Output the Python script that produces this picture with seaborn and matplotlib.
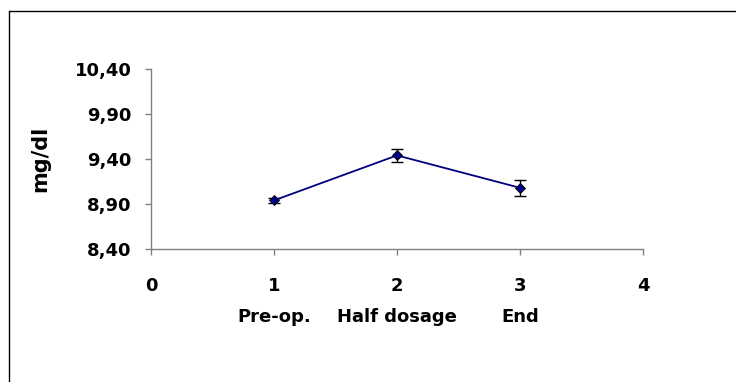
import numpy as np
import pandas as pd
import seaborn as sns
import matplotlib.pyplot as plt
from matplotlib.ticker import FuncFormatter, FixedLocator, MultipleLocator
from matplotlib.lines import Line2D

# data
x_pos = [1, 2, 3]
phases = ['Pre-op.', 'Half dosage', 'End']
mean_mgdl = [8.94, 9.44, 9.08]
err_mgdl = [0.03, 0.07, 0.09]
y_ticks = [8.40, 8.90, 9.40, 9.90, 10.40]

df = pd.DataFrame({'x': x_pos, 'mgdl': mean_mgdl, 'err': err_mgdl, 'phase': phases})

sns.set_style('white')
plt.rcParams['font.family'] = ['DejaVu Sans']
plt.rcParams['font.weight'] = 'bold'
plt.rcParams['text.color'] = 'black'
plt.rcParams['axes.labelcolor'] = 'black'

fig = plt.figure(figsize=(7.36, 3.82), dpi=100)
ax = fig.add_axes([151 / 736, 1 - 249 / 382, 492 / 736, 180 / 382])

ax.errorbar(df['x'], df['mgdl'], yerr=df['err'], fmt='none', ecolor='black',
            elinewidth=1, capsize=4, capthick=1, zorder=2)
sns.lineplot(data=df, x='x', y='mgdl', ax=ax, color='#000080', linewidth=1.3,
             marker='D', markersize=5, markerfacecolor='#000080',
             markeredgecolor='black', markeredgewidth=0.6, zorder=3)

ax.set_xlim(0, 4)
ax.set_ylim(8.40, 10.40)
ax.xaxis.set_major_locator(MultipleLocator(1))
ax.yaxis.set_major_locator(FixedLocator(y_ticks))
ax.yaxis.set_major_formatter(FuncFormatter(lambda v, p: f'{v:.2f}'.replace('.', ',')))
ax.set_xlabel('')
ax.set_ylabel('mg/dl', fontsize=15, fontweight='bold', color='black')
ax.yaxis.set_label_coords((40 - 151) / 492, 0.5)
ax.yaxis.label.set_va('center')

for s in ['top', 'right']:
    ax.spines[s].set_visible(False)
for s in ['left', 'bottom']:
    ax.spines[s].set_color('#808080')
    ax.spines[s].set_linewidth(1)
ax.tick_params(axis='both', direction='out', length=4, width=1, color='#808080',
               labelcolor='black', labelsize=13, left=True, bottom=True)
ax.tick_params(axis='x', pad=16)
ax.tick_params(axis='y', pad=10)
for lab in ax.get_xticklabels() + ax.get_yticklabels():
    lab.set_fontweight('bold')

for xp, name in zip(x_pos, phases):
    ax.annotate(name, xy=(xp, 0), xycoords=('data', 'axes fraction'),
                xytext=(0, -73), textcoords='offset pixels', ha='center', va='baseline',
                fontsize=13, fontweight='bold', color='black')

# outer frame (only top and left visible)
fig.add_artist(Line2D([9 / 736, 1], [1 - 11 / 382, 1 - 11 / 382], transform=fig.transFigure,
                      color='black', linewidth=1))
fig.add_artist(Line2D([9 / 736, 9 / 736], [0, 1 - 11 / 382], transform=fig.transFigure,
                      color='black', linewidth=1))

fig.savefig('out.png', dpi=100)
